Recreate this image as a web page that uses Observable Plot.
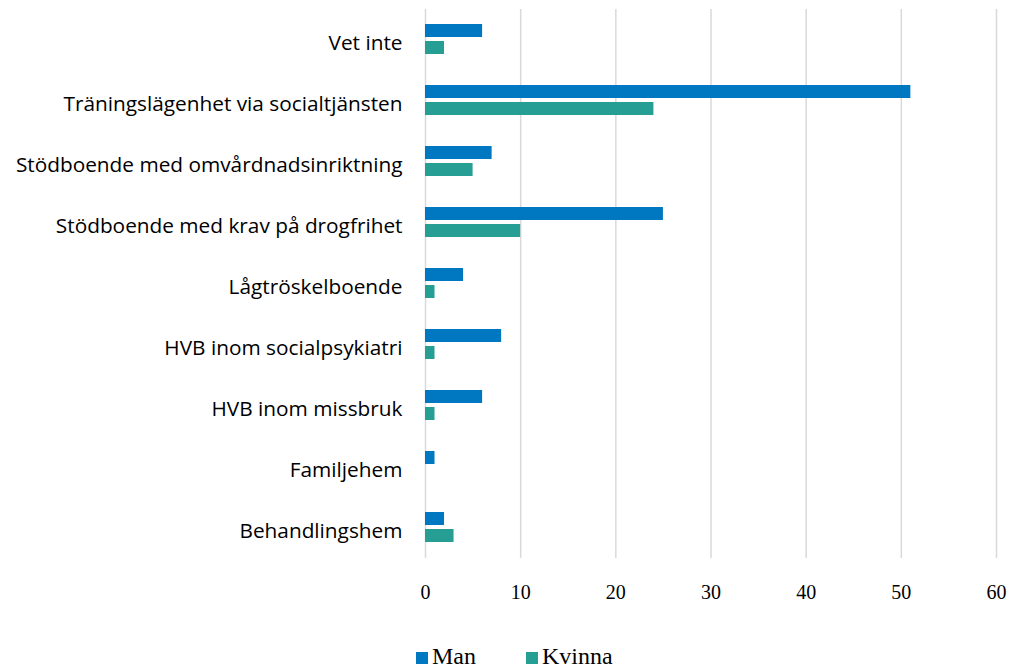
<!DOCTYPE html>
<html>
<head>
<meta charset="utf-8">
<script src="https://cdn.jsdelivr.net/npm/d3@7"></script>
<script src="https://cdn.jsdelivr.net/npm/@observablehq/plot@0.6"></script>
<style>
  body { margin: 0; background: #fff; }
  #chart svg { display: block; }
  g[aria-label^="x-axis"] text { font-family: "Liberation Serif", "Times New Roman", serif; font-size: 20px; fill: #000; }
  g[aria-label^="fy-axis"] text { font-family: "Open Sans", sans-serif; font-size: 20.8px; fill: #000; }
  #legend { font-family: "Liberation Serif", serif; font-size: 24px; position: relative; height: 38px; }
  .item { position: absolute; top: 13px; display: flex; align-items: center; }
  .sw { width: 12px; height: 12px; margin-right: 4px; margin-top: 3px; }
</style>
</head>
<body>
<div id="chart"></div>
<div id="legend"></div>
<script>
const categories = ["Vet inte", "Träningslägenhet via socialtjänsten", "Stödboende med omvårdnadsinriktning", "Stödboende med krav på drogfrihet", "Lågtröskelboende", "HVB inom socialpsykiatri", "HVB inom missbruk", "Familjehem", "Behandlingshem"];
const man =    [6, 51, 7, 25, 4, 8, 6, 1, 2];
const kvinna = [2, 24, 5, 10, 1, 1, 1, 0, 3];
const series = ["Man", "Kvinna"];
const colors = ["#0078C1", "#279E93"];
const xTicks = [0, 10, 20, 30, 40, 50, 60];

const data = [];
categories.forEach((c, i) => {
  data.push({cat: c, s: "Man", v: man[i]});
  data.push({cat: c, s: "Kvinna", v: kvinna[i]});
});

const chart = Plot.plot({
  width: 1019,
  height: 630,
  marginLeft: 425,
  marginRight: 23,
  marginTop: 8,
  marginBottom: 72,
  style: {background: "#fff", overflow: "visible"},
  x: {domain: [0, 60], ticks: xTicks, tickSize: 0, tickPadding: 26, label: null},
  y: {domain: series, axis: null, paddingInner: 0.222, paddingOuter: 0.81},
  fy: {domain: categories, padding: 0, tickSize: 0, tickPadding: 23, label: null},
  color: {domain: series, range: colors},
  marks: [
    Plot.ruleX(xTicks, {stroke: "#d9d9d9", strokeWidth: 1.5}),
    Plot.barX(data, {fy: "cat", y: "s", x: "v", fill: "s"})
  ]
});
document.getElementById("chart").appendChild(chart);
chart.querySelectorAll('g[aria-label^="fy-axis"] text').forEach(t => t.setAttribute("dy", "3.5px"));

const legend = document.getElementById("legend");
const lx = [416, 526];
series.forEach((s, i) => {
  const it = document.createElement("div");
  it.className = "item";
  it.style.left = lx[i] + "px";
  it.innerHTML = `<span class="sw" style="background:${colors[i]}"></span><span>${s}</span>`;
  legend.appendChild(it);
});
</script>
</body>
</html>
